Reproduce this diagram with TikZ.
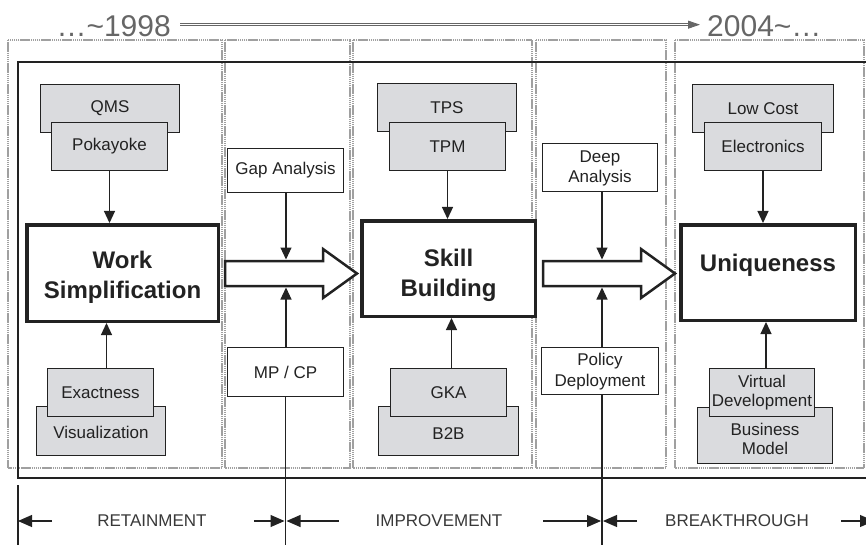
\documentclass[tikz,border=0pt]{standalone}
\usepackage{fontspec}
\setmainfont{Liberation Sans}
\usetikzlibrary{arrows.meta, calc}
\definecolor{ink}{HTML}{222222}
\definecolor{boxfill}{HTML}{DADBDE}
\definecolor{frame}{HTML}{A0A0A0}
\definecolor{era}{HTML}{666666}

\begin{document}
\begin{tikzpicture}[x=1pt, y=-1pt,
  txt/.style={font=\fontsize{17}{20.5}\selectfont, text=ink, align=center, inner sep=0pt},
  greybox/.style={txt, draw=ink, fill=boxfill, line width=1.2pt, minimum height=48pt},
  whitebox/.style={txt, draw=ink, fill=white, line width=1.2pt},
  mainbox/.style={draw=ink, fill=white, line width=3.5pt, align=center, text=ink,
    inner sep=0pt, font=\bfseries\fontsize{24}{30}\selectfont},
  feed/.style={draw=ink, line width=1.1pt, -{Triangle[length=12pt,width=11pt]}},
  dim/.style={draw=ink, line width=1.1pt, -{Triangle[length=14pt,width=12pt]}},
  lbl/.style={font=\fontsize{17}{20}\selectfont, text=ink!90, inner sep=0pt},
  column/.style={draw=frame, line width=1.2pt, dash pattern=on 1.5pt off 0.6pt},
  hollow/.style={draw=ink, line width=2.5pt, fill=white, line join=miter},
  era/.style={font=\fontsize{30}{30}\selectfont, text=era, inner sep=0pt},
  timeline/.style={draw=era, double=white, double distance=1.3pt, line width=0.9pt,
    -{Triangle[length=12pt,width=8pt]}}]
  \def\bodyH{12.5}
  \def\headH{24.5}
  \def\headL{34}
  \useasboundingbox (0,0) rectangle (866,545);
  \clip (0,0) rectangle (866,545);

  % periods
  \draw[column] (8,40) rectangle (222,468);
  \draw[column] (225,40) rectangle (350,468);
  \draw[column] (353,40) rectangle (532,468);
  \draw[column] (536,40) rectangle (666,468);
  \draw[column] (675,40) rectangle (864,468);
  \draw[draw=ink, line width=1.6pt] (18,62) rectangle (890,478);

  % time line
  \node[era, anchor=base east] (y98) at (171,37) {…\textasciitilde1998};
  \node[era, anchor=base west] (y04) at (707,37) {2004\textasciitilde…};
  \draw[timeline] ($(y98.east)+(9,-2)$) -- ($(y04.west)+(-7,-2)$);

  % retainment
  \node[greybox, minimum width=139pt] (qms) at (110,108.5) {QMS};
  \node[greybox, minimum width=116pt] (poka) at (109.5,146.5) {Pokayoke};
  \node[mainbox, minimum width=191.5pt, minimum height=96.5pt, text height=50pt, text depth=0pt] (work) at (122.5,273) {Work\\Simplification};
  \node[greybox, minimum width=129pt, minimum height=49pt, text height=16pt] (visual) at (101,431) {Visualization};
  \node[greybox, minimum width=106pt] (exact) at (100.5,392.5) {Exactness};
  \draw[feed] (poka.south) -- (poka.south |- work.north);
  \draw[feed] ([xshift=6pt]exact.north) -- ([xshift=6pt]exact.north |- work.south);

  % improvement
  \node[greybox, minimum width=139pt] (tps) at (447,107.5) {TPS};
  \node[greybox, minimum width=116pt] (tpm) at (447.5,146.5) {TPM};
  \node[mainbox, minimum width=173.5pt, minimum height=95.5pt, text height=55pt, text depth=0pt] (skill) at (448.5,268.5) {Skill\\Building};
  \node[greybox, minimum width=140pt, minimum height=49pt, text height=16pt] (btob) at (448.5,431) {B2B};
  \node[greybox, minimum width=116pt] (gka) at (448.5,392.5) {GKA};
  \draw[feed] (tpm.south) -- (tpm.south |- skill.north);
  \draw[feed] ([xshift=3pt]gka.north) -- ([xshift=3pt]gka.north |- skill.south);

  % breakthrough
  \node[greybox, minimum width=141pt] (lowcost) at (763,108.5) {Low Cost};
  \node[greybox, minimum width=117pt] (elec) at (763,146.5) {Electronics};
  \node[mainbox, minimum width=174.5pt, minimum height=95.5pt, text height=17pt, text depth=20pt] (unique) at (768,272.5) {Uniqueness};
  \node[greybox, minimum width=135pt, minimum height=56pt, text height=39pt, font=\fontsize{17}{19.5}\selectfont] (busi) at (765,435.5) {Business\\Model};
  \node[greybox, minimum width=105pt, font=\fontsize{17}{19.5}\selectfont] (virt) at (762,392.5) {Virtual\\Development};
  \draw[feed] (elec.south) -- (elec.south |- unique.north);
  \draw[feed] ([xshift=4pt]virt.north) -- ([xshift=4pt]virt.north |- unique.south);

  % block arrows between stages
  \coordinate (a1s) at (225,273.5);
  \coordinate (a1t) at (357,273.5);
  \coordinate (a2s) at (543,273.5);
  \coordinate (a2t) at (675,273.5);
  \foreach \s/\t in {a1s/a1t, a2s/a2t} {
    \draw[hollow] ($(\s)+(0,-\bodyH)$) -- ($(\t)+(-\headL,-\bodyH)$) -- ($(\t)+(-\headL,-\headH)$)
      -- (\t) -- ($(\t)+(-\headL,\headH)$) -- ($(\t)+(-\headL,\bodyH)$) -- ($(\s)+(0,\bodyH)$) -- cycle;
  }
  \coordinate (gapin) at (286,259.5);
  \coordinate (mpin) at (286,287.5);
  \coordinate (deepin) at (602,259.5);
  \coordinate (polin) at (602,287.5);

  \node[whitebox, minimum width=116pt, minimum height=44pt] (gap) at (285.5,170.5) {Gap Analysis};
  \node[whitebox, minimum width=116pt, minimum height=49pt] (mpcp) at (285.5,372) {MP / CP};
  \node[whitebox, minimum width=115pt, minimum height=48pt, text height=34pt] (deep) at (600,167.5) {Deep\\Analysis};
  \node[whitebox, minimum width=117pt, minimum height=47pt, text height=34pt] (policy) at (600,371) {Policy\\Deployment};
  \draw[feed] (gap.south -| gapin) -- (gapin);
  \draw[feed] (mpcp.north -| mpin) -- (mpin);
  \draw[feed] (deep.south -| deepin) -- (deepin);
  \draw[feed] (policy.north -| polin) -- (polin);

  % stage markers
  \coordinate (mark0) at (18,521);
  \coordinate (mark1) at (285.5,521);
  \coordinate (mark2) at (602,521);
  \coordinate (mark3) at (874,521);
  \draw[draw=ink, line width=1.1pt] (18,485) -- (18,545);
  \draw[draw=ink, line width=1.1pt] (mpcp.south -| mark1) -- (285.5,545);
  \draw[draw=ink, line width=1.1pt] (policy.south -| mark2) -- (602,545);
  \node[lbl] (ret) at (152,521) {RETAINMENT};
  \node[lbl] (imp) at (439,521) {IMPROVEMENT};
  \node[lbl] (brk) at (737,521) {BREAKTHROUGH};
  \draw[dim] ($(ret.west)+(-45,0)$) -- (mark0);
  \draw[dim] ($(ret.east)+(47,0)$) -- ([xshift=-1pt]mark1);
  \draw[dim] ($(imp.west)+(-37,0)$) -- ([xshift=1pt]mark1);
  \draw[dim] ($(imp.east)+(41,0)$) -- ([xshift=-1pt]mark2);
  \draw[dim] ($(brk.west)+(-28,0)$) -- ([xshift=1pt]mark2);
  \draw[dim] ($(brk.east)+(32,0)$) -- (mark3);
\end{tikzpicture}
\end{document}
